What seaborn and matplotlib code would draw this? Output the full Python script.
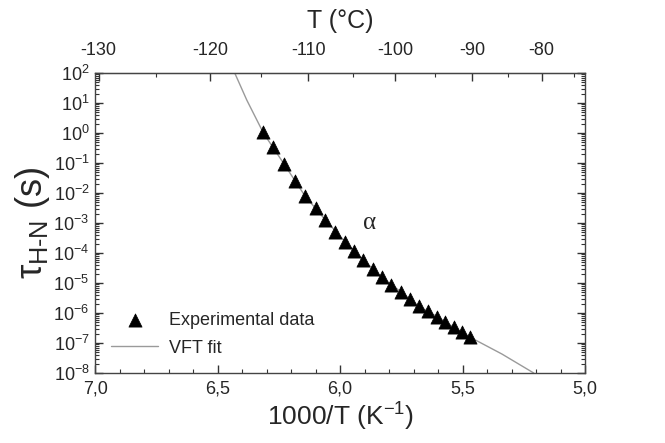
import numpy as np
import pandas as pd
import matplotlib
matplotlib.use("Agg")
import matplotlib.pyplot as plt
import seaborn as sns
from matplotlib.ticker import MultipleLocator, FixedLocator, FuncFormatter, LogLocator, NullFormatter

# Experimental relaxation times
inv_T = [6.313, 6.272, 6.229, 6.184, 6.143, 6.099, 6.060, 6.020, 5.980, 5.943,
         5.905, 5.867, 5.830, 5.792, 5.752, 5.714, 5.680, 5.642, 5.605, 5.571,
         5.535, 5.503, 5.469]
tau = [1.10, 0.333, 0.0927, 0.0251, 7.94e-3, 3.24e-3, 1.26e-3, 5.13e-4, 2.4e-4, 1.2e-4,
       5.9e-5, 2.9e-5, 1.55e-5, 8.5e-6, 5.1e-6, 2.95e-6, 1.7e-6, 1.2e-6, 7.6e-7, 5.1e-7,
       3.3e-7, 2.4e-7, 1.55e-7]

# VFT fit curve
fit_inv_T = [6.43, 6.381, 6.313, 6.229, 6.143, 6.060, 5.980, 5.905, 5.830, 5.752,
             5.680, 5.605, 5.535, 5.469, 5.340, 5.210]
fit_tau = [100, 12.6, 1.0, 0.093, 7.9e-3, 1.26e-3, 2.4e-4, 5.9e-5, 1.55e-5, 5.1e-6,
           1.7e-6, 7.6e-7, 3.3e-7, 1.55e-7, 4.3e-8, 1e-8]

celsius_ticks = [-130, -120, -110, -100, -90, -80]

sns.set_style("ticks")
plt.rcParams['font.family'] = ['Liberation Sans', 'DejaVu Sans']
plt.rcParams['mathtext.fontset'] = 'custom'
plt.rcParams['mathtext.rm'] = 'Liberation Sans'
plt.rcParams['mathtext.it'] = 'Liberation Sans'
plt.rcParams['xtick.direction'] = 'in'
plt.rcParams['ytick.direction'] = 'in'

data = pd.DataFrame({"x": inv_T, "tau": tau})
fit = pd.DataFrame({"x": fit_inv_T, "tau": fit_tau})

fig = plt.figure(figsize=(6.65, 4.43), dpi=100)
ax = fig.add_axes([0.143, 0.158, 0.737, 0.677])

sns.lineplot(data=fit, x="x", y="tau", ax=ax, color="#9a9a9a", lw=1.0, sort=False,
             label="VFT fit")
sns.scatterplot(data=data, x="x", y="tau", ax=ax, marker="^", color="black", s=90,
                edgecolor="black", linewidth=0.5, label="Experimental data", zorder=3)

ax.set_yscale("log")
ax.set_xlim(7.0, 5.0)
ax.set_ylim(1e-8, 1e2)

ax.xaxis.set_major_locator(MultipleLocator(0.5))
ax.xaxis.set_minor_locator(MultipleLocator(0.1))
ax.xaxis.set_major_formatter(FuncFormatter(lambda v, p: f"{v:.1f}".replace(".", ",")))
ax.yaxis.set_major_locator(LogLocator(base=10, numticks=20))
ax.yaxis.set_minor_locator(LogLocator(base=10, subs=np.arange(2, 10), numticks=20))
ax.yaxis.set_minor_formatter(NullFormatter())

ax.tick_params(which="both", direction="in", right=True, top=False, labelsize=13,
               color="#333333")
ax.tick_params(which="major", length=6, width=1)
ax.tick_params(which="minor", length=3, width=0.8)
ax.tick_params(axis="x", pad=5.5)
ax.tick_params(axis="y", pad=4)
for s in ax.spines.values():
    s.set_linewidth(1.0)
    s.set_color("#444444")

ax.set_xlabel("1000/T (K$^{-1}$)", fontsize=19, labelpad=2)
ax.set_ylabel(r"$\tau_{\mathrm{H\text{-}N}}$ (s)", fontsize=26, labelpad=1)

# top axis in degrees Celsius
def to_c(x):
    x = np.asarray(x, dtype=float)
    with np.errstate(divide="ignore", invalid="ignore"):
        return 1000.0 / x - 273.15

def to_inv(t):
    t = np.asarray(t, dtype=float)
    with np.errstate(divide="ignore", invalid="ignore"):
        return 1000.0 / (t + 273.15)

top = ax.secondary_xaxis("top", functions=(to_c, to_inv))
top.xaxis.set_major_locator(FixedLocator(celsius_ticks))
top.xaxis.set_minor_locator(MultipleLocator(5))
top.xaxis.set_major_formatter(FuncFormatter(lambda v, p: f"{v:.0f}"))
top.tick_params(which="both", direction="in", labelsize=13, color="#333333", pad=10)
top.tick_params(which="major", length=6, width=1)
top.tick_params(which="minor", length=3, width=0.8)
top.set_xlabel("T (°C)", fontsize=18, labelpad=10)

ax.text(5.88, 1e-3, "α", fontsize=18, family="Liberation Serif", ha="center", va="center")

handles, labels = ax.get_legend_handles_labels()
order = [labels.index("Experimental data"), labels.index("VFT fit")]
ax.legend([handles[i] for i in order], [labels[i] for i in order], loc="lower left",
          bbox_to_anchor=(0.0, 0.0), frameon=False, fontsize=13, handlelength=2.6,
          handletextpad=0.6, labelspacing=0.6)

fig.savefig("out.png", dpi=100)
